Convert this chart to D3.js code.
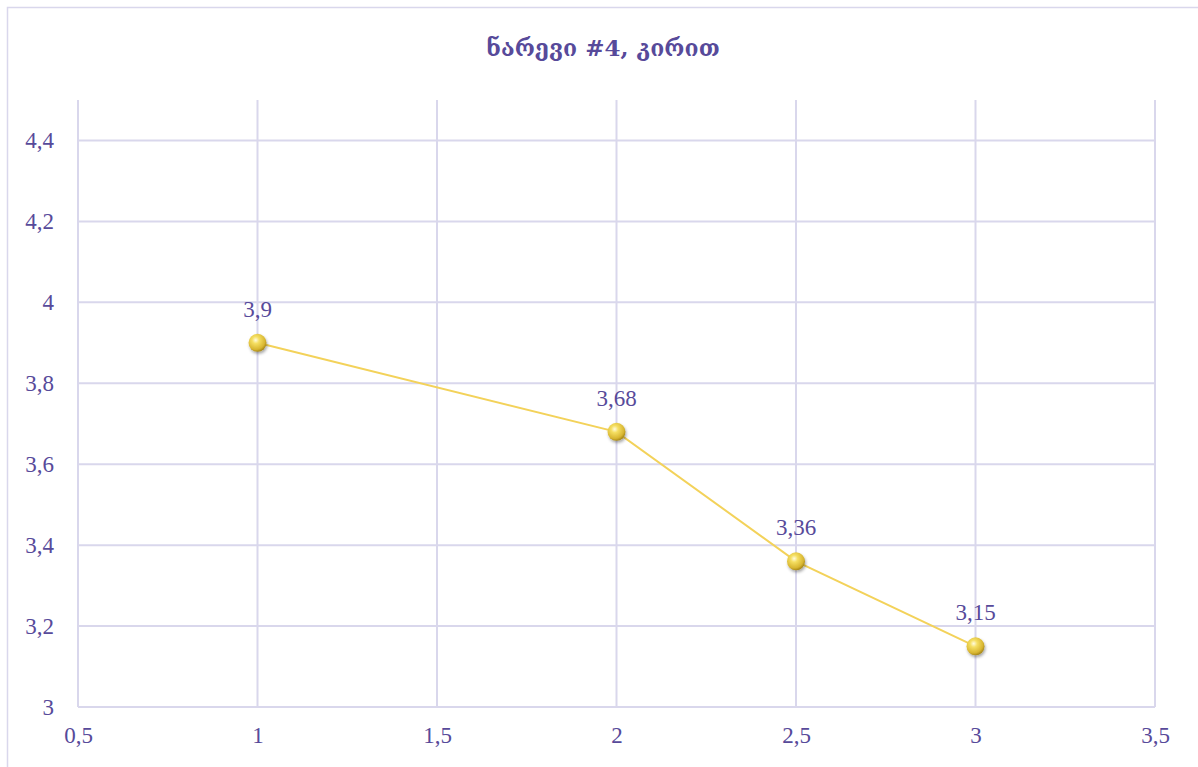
<!DOCTYPE html>
<html>
<head>
<meta charset="utf-8">
<script src="https://d3js.org/d3.v7.min.js"></script>
<style>
  body { margin: 0; background: #fff; }
  svg { display: block; }
</style>
</head>
<body>
<svg id="chart" width="1198" height="767"></svg>
<script>
// chart data
var xValues = [1, 2, 2.5, 3];
var yValues = [3.9, 3.68, 3.36, 3.15];
var pointLabels = ["3,9", "3,68", "3,36", "3,15"];
var xTicks = [0.5, 1, 1.5, 2, 2.5, 3, 3.5];
var yTicks = [3, 3.2, 3.4, 3.6, 3.8, 4, 4.2, 4.4];
var title = "ნარევი #4, კირით";

var svg = d3.select("#chart");
var textColor = "#574a9a";
var gridColor = "#d9d7ec";
var numFont = "'Liberation Serif', 'DejaVu Serif', serif";

// outer chart border
svg.append("rect")
  .attr("x", 7.5).attr("y", 7.5)
  .attr("width", 1198).attr("height", 800)
  .attr("fill", "none").attr("stroke", gridColor).attr("stroke-width", 1.5);

var plotLeft = 78, plotRight = 1155, plotTop = 100, plotBottom = 707;
var x = d3.scaleLinear().domain([0.5, 3.5]).range([plotLeft, plotRight]);
var y = d3.scaleLinear().domain([3, 4.5]).range([plotBottom, plotTop]);

// gradient for the spheres
var defs = svg.append("defs");
var grad = defs.append("radialGradient").attr("id", "ball")
  .attr("cx", "40%").attr("cy", "35%").attr("r", "65%");
grad.append("stop").attr("offset", "0%").attr("stop-color", "#fffbe0");
grad.append("stop").attr("offset", "30%").attr("stop-color", "#f5df62");
grad.append("stop").attr("offset", "80%").attr("stop-color", "#d8b631");
grad.append("stop").attr("offset", "100%").attr("stop-color", "#a98a1a");
var shadow = defs.append("filter").attr("id", "shadow")
  .attr("x", "-50%").attr("y", "-50%").attr("width", "200%").attr("height", "200%");
shadow.append("feDropShadow").attr("dx", 1).attr("dy", 2)
  .attr("stdDeviation", 1.5).attr("flood-color", "#000").attr("flood-opacity", 0.35);

// gridlines
var grid = svg.append("g").attr("stroke", gridColor).attr("stroke-width", 2);
grid.selectAll(".vg").data(xTicks).enter().append("line")
  .attr("x1", function(d) { return x(d); }).attr("x2", function(d) { return x(d); })
  .attr("y1", plotTop).attr("y2", plotBottom);
grid.selectAll(".hg").data(yTicks).enter().append("line")
  .attr("x1", plotLeft).attr("x2", plotRight)
  .attr("y1", function(d) { return y(d); }).attr("y2", function(d) { return y(d); });

// axes (labels only)
var fmt = function(d) { return String(d).replace(".", ","); };
var xAxis = svg.append("g")
  .attr("transform", "translate(0," + plotBottom + ")")
  .call(d3.axisBottom(x).tickValues(xTicks).tickFormat(fmt).tickSize(0).tickPadding(20));
var yAxis = svg.append("g")
  .attr("transform", "translate(" + plotLeft + ",0)")
  .call(d3.axisLeft(y).tickValues(yTicks).tickFormat(fmt).tickSize(0).tickPadding(24));
[xAxis, yAxis].forEach(function(a) {
  a.select(".domain").remove();
  a.selectAll("text").attr("fill", textColor)
    .style("font-family", numFont).style("font-size", "23px");
});

// line
var pts = xValues.map(function(d, i) { return [d, yValues[i]]; });
svg.append("path")
  .datum(pts)
  .attr("fill", "none")
  .attr("stroke", "#f3d25a")
  .attr("stroke-width", 2)
  .attr("d", d3.line().x(function(d) { return x(d[0]); }).y(function(d) { return y(d[1]); }));

// markers
svg.selectAll(".pt").data(pts).enter().append("circle")
  .attr("cx", function(d) { return x(d[0]); })
  .attr("cy", function(d) { return y(d[1]); })
  .attr("r", 9)
  .attr("fill", "url(#ball)")
  .attr("filter", "url(#shadow)");

// data labels
svg.selectAll(".lbl").data(pts).enter().append("text")
  .attr("x", function(d) { return x(d[0]); })
  .attr("y", function(d) { return y(d[1]) - 26; })
  .attr("text-anchor", "middle")
  .attr("fill", textColor)
  .style("font-family", numFont).style("font-size", "23px")
  .text(function(d, i) { return pointLabels[i]; });

// title
svg.append("text")
  .attr("x", 603).attr("y", 56)
  .attr("text-anchor", "middle")
  .attr("fill", textColor)
  .style("font-family", "'DejaVu Serif', 'DejaVu Sans', serif")
  .style("font-weight", "bold").style("font-size", "23px")
  .text(title);
</script>
</body>
</html>
